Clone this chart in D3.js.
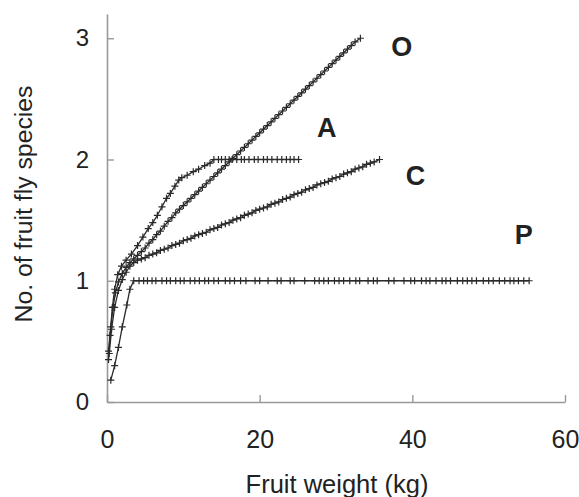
<!DOCTYPE html>
<html>
<head>
<meta charset="utf-8">
<script src="https://cdn.jsdelivr.net/npm/d3@7"></script>
<style>
  body { margin: 0; background: #fff; }
  svg text { font-family: "Liberation Sans", Arial, sans-serif; fill: #222; }
</style>
</head>
<body>
<svg id="chart" width="579" height="497"></svg>
<script>
// series O
const oX = [0.2, 0.5, 0.8, 1.1, 1.5, 2.0, 2.5, 3.0, 3.5, 4.0, 4.5, 5.0, 5.5, 6.0, 6.5, 7.0, 7.5, 8.0, 8.5, 9.0, 9.5, 10, 10.5, 11, 11.5, 12, 12.5, 13, 13.5, 14, 14.5, 15, 15.5, 16, 16.5, 17, 17.5, 18, 18.5, 19, 19.5, 20, 20.5, 21, 21.5, 22, 22.5, 23, 23.5, 24, 24.5, 25, 25.5, 26, 26.5, 27, 27.5, 28, 28.5, 29, 29.5, 30, 30.5, 31, 31.5, 32, 32.5, 33.2];
const oY = [0.42, 0.62, 0.78, 0.90, 0.99, 1.06, 1.11, 1.15, 1.18, 1.21, 1.24, 1.27, 1.31, 1.34, 1.38, 1.41, 1.45, 1.49, 1.52, 1.56, 1.59, 1.62, 1.65, 1.68, 1.71, 1.74, 1.77, 1.80, 1.83, 1.86, 1.89, 1.92, 1.95, 1.98, 2.01, 2.04, 2.07, 2.10, 2.13, 2.16, 2.19, 2.22, 2.25, 2.28, 2.31, 2.34, 2.37, 2.40, 2.43, 2.46, 2.49, 2.52, 2.55, 2.58, 2.61, 2.64, 2.67, 2.70, 2.73, 2.76, 2.79, 2.82, 2.85, 2.88, 2.91, 2.94, 2.97, 3.00];

// series A
const aX = [0.2, 0.4, 0.7, 1.0, 1.4, 1.9, 2.5, 3.2, 4.0, 4.7, 5.4, 6.0, 6.6, 7.2, 7.8, 8.3, 8.9, 9.4, 9.8, 10.5, 11.3, 12.0, 12.8, 13.5, 14.0, 14.6, 15.0, 15.5, 16.0, 16.4, 17.0, 17.6, 18.0, 18.6, 19.3, 19.8, 20.5, 21.0, 21.6, 22.3, 22.9, 23.5, 24.0, 24.5, 25.1];
const aY = [0.35, 0.55, 0.78, 0.93, 1.05, 1.12, 1.17, 1.22, 1.29, 1.36, 1.43, 1.48, 1.54, 1.61, 1.68, 1.72, 1.78, 1.83, 1.85, 1.87, 1.90, 1.92, 1.95, 1.97, 2, 2, 2, 2, 2, 2, 2, 2, 2, 2, 2, 2, 2, 2, 2, 2, 2, 2, 2, 2, 2];

// series C
const cX = [0.3, 0.6, 1.0, 1.5, 2.0, 2.5, 3.0, 3.5, 4.0, 4.5, 5.0, 5.5, 6.0, 6.5, 7.0, 7.5, 8.0, 8.5, 9.0, 9.5, 10, 10.5, 11, 11.5, 12, 12.5, 13, 13.5, 14, 14.5, 15, 15.5, 16, 16.5, 17, 17.5, 18, 18.5, 19, 19.5, 20, 20.5, 21, 21.5, 22, 22.5, 23, 23.5, 24, 24.5, 25, 25.5, 26, 26.5, 27, 27.5, 28, 28.5, 29, 29.5, 30, 30.5, 31, 31.5, 32, 32.5, 33, 33.5, 34, 34.5, 35, 35.7];
const cY = [0.40, 0.60, 0.78, 0.92, 1.01, 1.07, 1.12, 1.15, 1.17, 1.18, 1.19, 1.21, 1.22, 1.23, 1.25, 1.26, 1.27, 1.29, 1.30, 1.31, 1.33, 1.34, 1.35, 1.37, 1.38, 1.39, 1.40, 1.42, 1.43, 1.44, 1.46, 1.47, 1.48, 1.50, 1.51, 1.52, 1.54, 1.55, 1.56, 1.58, 1.59, 1.60, 1.61, 1.63, 1.64, 1.65, 1.67, 1.68, 1.69, 1.71, 1.72, 1.73, 1.75, 1.76, 1.77, 1.79, 1.80, 1.81, 1.82, 1.84, 1.85, 1.86, 1.88, 1.89, 1.90, 1.92, 1.93, 1.94, 1.96, 1.97, 1.98, 2.00];

// series P
const pX = [0.5, 1.0, 1.5, 2.0, 2.6, 3.0, 3.5, 4.2, 4.8, 5.3, 5.9, 6.4, 7.2, 7.8, 8.3, 9.0, 9.6, 10.1, 10.9, 11.5, 12.1, 12.8, 13.3, 14.0, 14.6, 15.5, 16.1, 16.7, 17.5, 18.2, 19.4, 20.0, 21.1, 22.3, 22.8, 24.0, 24.5, 25.9, 27.2, 27.8, 28.4, 29.0, 29.8, 30.4, 31.0, 31.8, 32.6, 33.1, 34.2, 34.9, 35.4, 36.9, 37.6, 38.9, 39.8, 40.3, 41.2, 41.8, 42.3, 43.1, 43.9, 44.4, 45.0, 45.9, 46.6, 47.2, 47.8, 48.4, 49.3, 50.0, 50.6, 51.4, 52.1, 52.8, 53.3, 53.9, 54.6, 55.3];
const pY = [0.18, 0.30, 0.45, 0.62, 0.80, 0.93, 1, 1, 1, 1, 1, 1, 1, 1, 1, 1, 1, 1, 1, 1, 1, 1, 1, 1, 1, 1, 1, 1, 1, 1, 1, 1, 1, 1, 1, 1, 1, 1, 1, 1, 1, 1, 1, 1, 1, 1, 1, 1, 1, 1, 1, 1, 1, 1, 1, 1, 1, 1, 1, 1, 1, 1, 1, 1, 1, 1, 1, 1, 1, 1, 1, 1, 1, 1, 1, 1, 1, 1];

const seriesNames = ["O", "A", "C", "P"];
const xTicks = [0, 20, 40, 60];
const yTicks = [0, 1, 2, 3];

const series = [
    { name: "O", xs: oX, ys: oY, label: [38.6, 2.93] },
    { name: "A", xs: aX, ys: aY, label: [28.8, 2.26] },
    { name: "C", xs: cX, ys: cY, label: [40.4, 1.86] },
    { name: "P", xs: pX, ys: pY, label: [54.6, 1.38] }
];

const svg = d3.select("#chart");

const x = d3.scaleLinear().domain([0, 60]).range([107, 565]);
const y = d3.scaleLinear().domain([0, 3.2]).range([402, 14]);

// axes (ticks point inward)
svg.append("g")
    .attr("transform", "translate(0,402)")
    .call(d3.axisBottom(x).tickValues(xTicks).tickFormat(d3.format("d")).tickSize(-7).tickPadding(28).tickSizeOuter(0))
    .call(g => g.select(".domain").attr("stroke", "#999").attr("stroke-width", 1.6))
    .call(g => g.selectAll(".tick line").attr("stroke", "#999").attr("stroke-width", 1.4))
    .call(g => g.selectAll("text").style("font-size", "25px").attr("fill", "#222"));

svg.append("g")
    .attr("transform", "translate(107,0)")
    .call(d3.axisLeft(y).tickValues(yTicks).tickFormat(d3.format("d")).tickSize(-7).tickPadding(18).tickSizeOuter(0))
    .call(g => g.select(".domain").attr("stroke", "#999").attr("stroke-width", 1.6))
    .call(g => g.selectAll(".tick line").attr("stroke", "#999").attr("stroke-width", 1.4))
    .call(g => g.selectAll("text").style("font-size", "24px").attr("fill", "#222"));

// axis titles
svg.append("text")
    .attr("x", 337)
    .attr("y", 493)
    .attr("text-anchor", "middle")
    .style("font-size", "25.5px")
    .text("Fruit weight (kg)");

svg.append("text")
    .attr("transform", "translate(32,204) rotate(-90)")
    .attr("text-anchor", "middle")
    .style("font-size", "24.8px")
    .text("No. of fruit fly species");

// lines + markers
const line = d3.line().x(d => x(d[0])).y(d => y(d[1]));

series.forEach(s => {
    const pts = s.xs.map((v, i) => [v, s.ys[i]]);
    svg.append("path")
        .datum(pts)
        .attr("fill", "none")
        .attr("stroke", "#2a2a2a")
        .attr("stroke-width", 1.3)
        .attr("d", line);

    svg.append("g").selectAll("path")
        .data(pts)
        .enter()
        .append("path")
        .attr("d", d => `M${x(d[0]) - 3.5},${y(d[1])}h7M${x(d[0])},${y(d[1]) - 3.5}v7`)
        .attr("stroke", "#2a2a2a")
        .attr("stroke-width", 1.2);

    svg.append("text")
        .attr("x", x(s.label[0]))
        .attr("y", y(s.label[1]))
        .attr("text-anchor", "middle")
        .attr("dominant-baseline", "central")
        .style("font-size", "27px")
        .style("font-weight", "bold")
        .attr("fill", "#111")
        .text(s.name);
});
</script>
</body>
</html>
